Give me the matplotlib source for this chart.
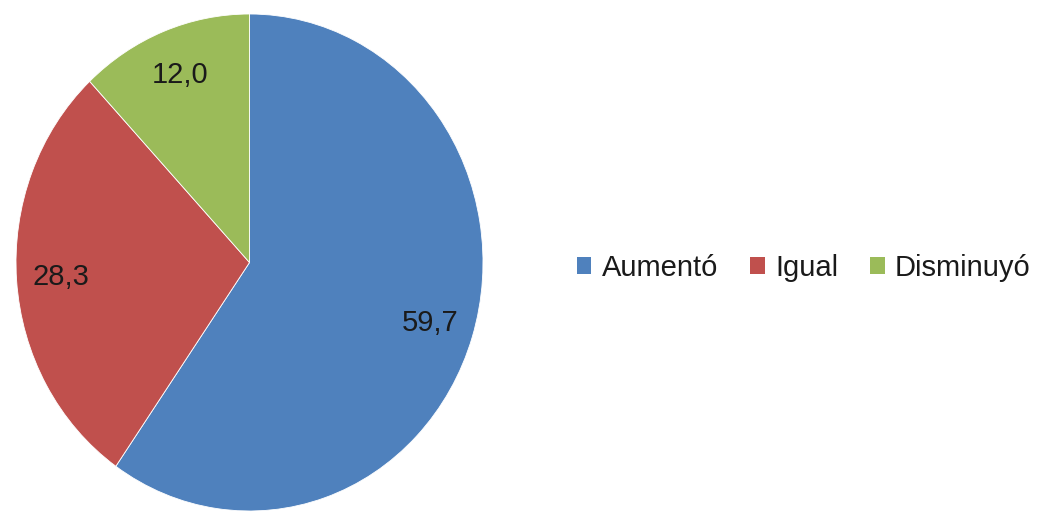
import matplotlib
matplotlib.use("Agg")
import matplotlib.pyplot as plt
from matplotlib.patches import Patch

categories = ["Aumentó", "Igual", "Disminuyó"]
values = [59.7, 28.3, 12.0]
colors = ["#4F81BD", "#C0504D", "#9BBB59"]

plt.rcParams['font.family'] = ['Liberation Sans', 'DejaVu Sans']

W, H = 1037, 512
fig = plt.figure(figsize=(W / 100, H / 100), dpi=100)
ax = fig.add_axes([16 / W, 1 / H, 467 / W, 497 / H])

wedges, texts, autotexts = ax.pie(
    values, colors=colors, startangle=90, counterclock=False,
    autopct=lambda p: f"{p:.1f}".replace('.', ','), pctdistance=0.81,
    wedgeprops=dict(edgecolor='white', linewidth=0.6),
    textprops=dict(fontsize=21, color='#1a1a1a'))
ax.set_xlim(-1, 1)
ax.set_ylim(-1, 1)
ax.set_aspect('auto')
ax.axis('off')

handles = [Patch(facecolor=c, edgecolor='none') for c in colors]
fig.legend(handles, categories, loc='center left', bbox_to_anchor=(571 / W, 1 - 268 / H),
           ncol=3, frameon=False, fontsize=21, handlelength=0.5, handleheight=0.5,
           handletextpad=0.35, columnspacing=1.1, labelcolor='#1a1a1a',
           borderaxespad=0, borderpad=0.2)

fig.savefig("out.png", dpi=100)
